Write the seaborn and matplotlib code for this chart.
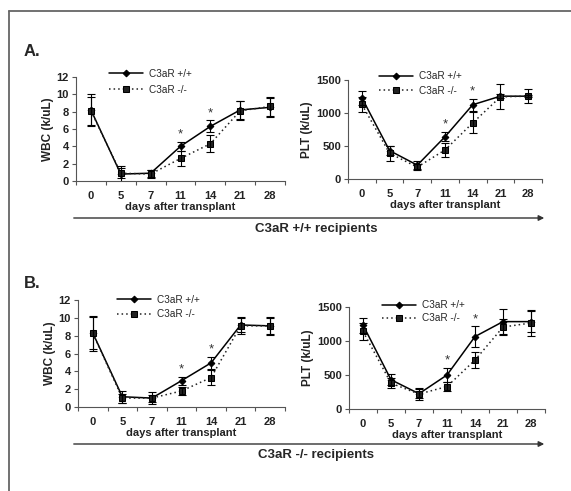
import numpy as np
import pandas as pd
import matplotlib
matplotlib.use('Agg')
import matplotlib.pyplot as plt
from matplotlib.lines import Line2D
from matplotlib.patches import FancyArrowPatch
import seaborn as sns

# ─── DATA ─────────────────────────────────────────────
days = ['0', '5', '7', '11', '14', '21', '28']
labels = ['C3aR +/+', 'C3aR -/-']
star_days = ['11', '14']

a_wbc_wt = [8.2, 0.8, 0.9, 4.0, 6.3, 8.2, 8.5]
a_wbc_wt_err = [1.8, 0.9, 0.4, 0.5, 0.7, 1.0, 1.1]
a_wbc_ko = [8.1, 0.9, 0.8, 2.6, 4.3, 8.1, 8.6]
a_wbc_ko_err = [1.6, 0.6, 0.5, 0.9, 1.0, 1.1, 1.1]

a_plt_wt = [1230, 430, 210, 640, 1125, 1255, 1255]
a_plt_wt_err = [105, 70, 60, 70, 90, 30, 20]
a_plt_ko = [1130, 390, 180, 440, 850, 1245, 1255]
a_plt_ko_err = [120, 110, 50, 110, 160, 190, 110]

b_wbc_wt = [8.3, 1.15, 1.0, 2.95, 4.95, 9.2, 9.1]
b_wbc_wt_err = [1.8, 0.7, 0.7, 0.45, 0.7, 0.8, 0.9]
b_wbc_ko = [8.25, 1.0, 1.0, 1.8, 3.3, 9.1, 9.1]
b_wbc_ko_err = [2.0, 0.5, 0.4, 0.45, 0.8, 0.95, 1.0]

b_plt_wt = [1235, 430, 225, 500, 1065, 1285, 1285]
b_plt_wt_err = [110, 80, 70, 105, 150, 180, 155]
b_plt_ko = [1140, 380, 220, 330, 720, 1205, 1265]
b_plt_ko_err = [130, 75, 90, 65, 115, 120, 185]

# ─── STYLE ────────────────────────────────────────────
sns.set_style('ticks')
plt.rcParams['font.family'] = ['Liberation Sans', 'DejaVu Sans']

W, H = 571, 491
fig = plt.figure(figsize=(W / 100, H / 100), dpi=100)


def px_axes(x0, x1, ytop, ybot):
    return fig.add_axes([x0 / W, 1 - ybot / H, (x1 - x0) / W, (ybot - ytop) / H])


def draw_panel(ax, wt, wt_err, ko, ko_err, ylabel, ymax, ystep, leg_anchor, leg_spacing):
    pos = np.arange(len(days))
    sns.lineplot(x=pos, y=wt, ax=ax, color='black', linewidth=1.1, marker='D',
                 markersize=3.4, markeredgecolor='black', label=labels[0])
    sns.lineplot(x=pos, y=ko, ax=ax, color='#222222', linewidth=1.1, marker='s',
                 markersize=5, markeredgecolor='black', linestyle=(0, (1, 2)),
                 label=labels[1])
    ax.errorbar(pos, wt, yerr=wt_err, fmt='none', ecolor='black', elinewidth=0.8,
                capsize=3, capthick=0.8)
    ax.errorbar(pos, ko, yerr=ko_err, fmt='none', ecolor='black', elinewidth=0.8,
                capsize=3, capthick=0.8)

    for d in star_days:
        i = days.index(d)
        top = max(wt[i] + wt_err[i], ko[i] + ko_err[i])
        ax.annotate('*', (i, top), xytext=(0, 1), textcoords='offset points',
                    ha='center', va='bottom', fontsize=9.5, color='#333333')

    ax.set_xlim(-0.5, len(days) - 0.5)
    ax.set_ylim(0, ymax)
    ax.set_yticks(np.arange(0, ymax + 1, ystep))
    ax.set_xticks(np.arange(-0.5, len(days), 1))
    ax.set_xticklabels([])
    ax.set_xticks(pos, minor=True)
    ax.set_xticklabels(days, minor=True)
    ax.tick_params(axis='x', which='minor', length=0, pad=7)
    ax.tick_params(axis='x', which='major', length=3, width=0.8, color='#555555')
    ax.tick_params(axis='y', length=3, width=0.8, color='#555555', pad=2)
    for t in ax.get_xticklabels(minor=True) + ax.get_yticklabels():
        t.set_fontsize(8)
        t.set_fontweight('bold')
        t.set_color('#222222')
    for s in ['left', 'bottom']:
        ax.spines[s].set_color('#555555')
        ax.spines[s].set_linewidth(0.8)
    sns.despine(ax=ax)
    ax.set_xlabel('days after transplant', fontsize=8, fontweight='bold', labelpad=1,
                  color='#222222')
    ax.set_ylabel(ylabel, fontsize=8.5, fontweight='bold', labelpad=2, color='#222222')

    h, l = ax.get_legend_handles_labels()
    ax.legend(h[:2], l[:2], loc='upper left', bbox_to_anchor=leg_anchor,
              frameon=False, fontsize=7.2, borderpad=0, borderaxespad=0,
              handlelength=3.4, handletextpad=0.6, labelspacing=leg_spacing)


ax_a1 = px_axes(76, 285, 77, 181)
draw_panel(ax_a1, a_wbc_wt, a_wbc_wt_err, a_wbc_ko, a_wbc_ko_err,
           'WBC (k/uL)', 12, 2, (0.16, 1.08), 0.6)
ax_a2 = px_axes(348, 542, 80, 179)
draw_panel(ax_a2, a_plt_wt, a_plt_wt_err, a_plt_ko, a_plt_ko_err,
           'PLT (k/uL)', 1500, 500, (0.16, 1.09), 0.45)
ax_b1 = px_axes(78, 285, 300, 407)
draw_panel(ax_b1, b_wbc_wt, b_wbc_wt_err, b_wbc_ko, b_wbc_ko_err,
           'WBC (k/uL)', 12, 2, (0.19, 1.05), 0.45)
ax_b2 = px_axes(349, 545, 307, 409)
draw_panel(ax_b2, b_plt_wt, b_plt_wt_err, b_plt_ko, b_plt_ko_err,
           'PLT (k/uL)', 1500, 500, (0.17, 1.065), 0.3)

# panel letters
fig.text(24 / W, 1 - 52 / H, 'A.', fontsize=12, fontweight='bold', va='center')
fig.text(24 / W, 1 - 283 / H, 'B.', fontsize=12, fontweight='bold', va='center')

# recipient arrows
for y, txt in [(218, 'C3aR +/+ recipients'), (444, 'C3aR -/- recipients')]:
    arr = FancyArrowPatch((71 / W, 1 - y / H), (547 / W, 1 - y / H),
                          transform=fig.transFigure, arrowstyle='-|>',
                          mutation_scale=8, color='#333333', linewidth=1.0)
    fig.add_artist(arr)
    fig.text(316 / W, 1 - (y + 11) / H, txt, fontsize=9.5, fontweight='bold',
             ha='center', va='center')

# outer frame
fig.add_artist(Line2D([9 / W, 9 / W], [0, 1 - 11 / H], transform=fig.transFigure,
                      color='#666666', linewidth=1.3))
fig.add_artist(Line2D([9 / W, 1], [1 - 11 / H, 1 - 11 / H], transform=fig.transFigure,
                      color='#666666', linewidth=1.3))

fig.savefig('out.png', dpi=100)
